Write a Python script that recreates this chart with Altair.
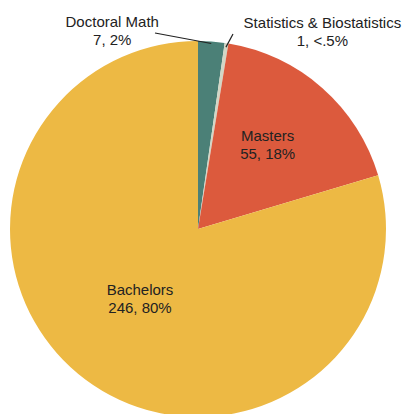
import altair as alt
import pandas as pd
import numpy as np

categories = ["Doctoral Math", "Statistics & Biostatistics", "Masters", "Bachelors"]
counts = [7, 1, 55, 246]
value_labels = ["7, 2%", "1, <.5%", "55, 18%", "246, 80%"]
colors = ["#4b8077", "#d3d6c5", "#dc5a3d", "#edb944"]

total = sum(counts)
df = pd.DataFrame({"category": categories, "count": counts, "vlabel": value_labels})
df["start"] = df["count"].cumsum() - df["count"]
df["end"] = df["count"].cumsum()
df["mid"] = (df["start"] + df["end"]) / 2
df["label"] = df["category"] + "\n" + df["vlabel"]

W, H = 394, 406
R = 188
cx, cy = 190, 221

theta_scale = alt.Scale(domain=[0, total], range=[0, 2 * np.pi])
color_scale = alt.Scale(domain=categories, range=colors)

base = alt.Chart(df)

pie = base.mark_arc(outerRadius=R).encode(
    theta=alt.Theta("start:Q", scale=theta_scale),
    theta2="end:Q",
    x=alt.value(cx),
    y=alt.value(cy),
    color=alt.Color("category:N", scale=color_scale, legend=None),
)

def label_layer(cat, radius, dx, dy):
    return base.transform_filter(alt.datum.category == cat).mark_text(
        radius=radius, dx=dx, dy=dy, font="Liberation Sans", fontSize=15,
        lineBreak="\n", lineHeight=18, align="center", baseline="middle", color="#222222"
    ).encode(
        theta=alt.Theta("mid:Q", scale=theta_scale),
        x=alt.value(cx),
        y=alt.value(cy),
        text="label:N",
    )

labels = (label_layer("Masters", 113, -5, -8) + label_layer("Bachelors", 87, -6, -9)
          + label_layer("Doctoral Math", 200, -100, -8)
          + label_layer("Statistics & Biostatistics", 200, 94, -8))

# leader lines: from slice edge (computed from angle) to label anchor
def edge_point(cat, r):
    row = df[df.category == cat].iloc[0]
    a = row["mid"] / total * 2 * np.pi
    return cx + r * np.sin(a), cy - r * np.cos(a)

ex1, ey1 = edge_point("Doctoral Math", 186)
ex2, ey2 = edge_point("Statistics & Biostatistics", 184)
lines_df = pd.DataFrame({
    "lid": ["d", "d", "s", "s"],
    "px": [147, ex1, ex2, 225],
    "py": [25, ey1, ey2, 26],
    "k": [0, 1, 0, 1],
})
leaders = alt.Chart(lines_df).mark_line(color="#222222", strokeWidth=1.2).encode(
    x=alt.X("px:Q", scale=None, axis=None),
    y=alt.Y("py:Q", scale=None, axis=None),
    detail="lid:N",
    order="k:Q",
)

chart = alt.layer(pie, labels, leaders).properties(
    width=W, height=H, autosize=alt.AutoSizeParams(type="none"), padding=0
).configure_view(stroke="transparent", strokeWidth=0)

chart.save("out.html", embed_options={"renderer": "svg", "actions": False})
